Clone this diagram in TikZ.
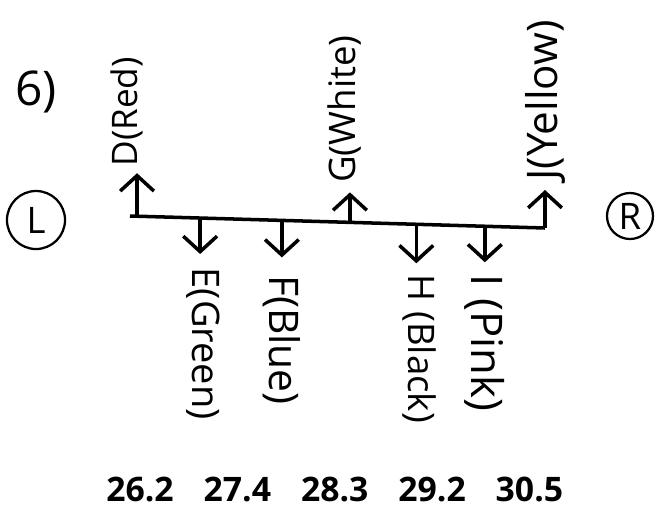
\documentclass[tikz,border=0pt]{standalone}
\usepackage{fontspec}
\setmainfont{Open Sans}
\usepackage{tikz}
\usetikzlibrary{positioning,calc,arrows.meta}
\tikzstyle{arr} = [line width=2.5pt,-{Straight Barb[length=11pt,width=24pt]}]
\tikzstyle{lab} = [font=\fontsize{26}{26}\selectfont, inner sep=1pt]
\tikzstyle{ring} = [circle, draw, line width=1.6pt, minimum size=1.45cm, inner sep=0pt, font=\fontsize{26}{26}\selectfont]
\tikzstyle{num} = [font=\fontsize{24}{24}\selectfont\bfseries]

\begin{document}
\begin{tikzpicture}[x=0.025cm,y=-0.025cm]
        \useasboundingbox (0,0) rectangle (667,516);
        \coordinate (bl) at (130,216);
        \coordinate (br) at (545,228);
        \draw[line width=2.5pt] (bl) -- (br);
        % points on the bar
        \coordinate (bD) at ($(bl)!0.017!(br)$);
        \coordinate (bE) at ($(bl)!0.169!(br)$);
        \coordinate (bF) at ($(bl)!0.366!(br)$);
        \coordinate (bG) at ($(bl)!0.53!(br)$);
        \coordinate (bH) at ($(bl)!0.69!(br)$);
        \coordinate (bI) at ($(bl)!0.855!(br)$);
        \coordinate (bJ) at (br);
        \coordinate (tD) at ($(bD)+(0,-43)$);
        \coordinate (tG) at ($(bG)+(0,-30)$);
        \coordinate (tJ) at ($(bJ)+(0,-38)$);
        \coordinate (tE) at ($(bE)+(0,36)$);
        \coordinate (tF) at ($(bF)+(0,37)$);
        \coordinate (tH) at ($(bH)+(0,39)$);
        \coordinate (tI) at ($(bI)+(0,36)$);
        \draw[arr] (bD) -- (tD);
        \draw[arr] (bG) -- (tG);
        \draw[arr] (bJ) -- (tJ);
        \draw[arr] (bE) -- (tE);
        \draw[arr] (bF) -- (tF);
        \draw[arr] (bH) -- (tH);
        \draw[arr] (bI) -- (tI);
        \node[lab, font=\fontsize{25}{25}\selectfont, rotate=90, anchor=west] (lD) at ($(tD)+(-10,-5)$) {D(Red)};
        \node[lab, rotate=90, anchor=west] (lG) at ($(tG)+(-5,-8)$) {G(White)};
        \node[lab, font=\fontsize{30}{30}\selectfont, rotate=90, anchor=west] (lJ) at ($(tJ)+(0,-8)$) {J(Yellow)};
        \node[lab, font=\fontsize{27}{27}\selectfont, rotate=-90, anchor=west] (lE) at ($(tE)+(3,12)$) {E(Green)};
        \node[lab, font=\fontsize{29}{29}\selectfont, rotate=-90, anchor=west] (lF) at ($(tF)+(0,16)$) {F(Blue)};
        \node[lab, rotate=-90, anchor=west] (lH) at ($(tH)+(3,10)$) {H (Black)};
        \node[lab, font=\fontsize{31}{31}\selectfont, rotate=-90, anchor=west] (lI) at ($(tI)+(0,11)$) {I (Pink)};
        \node[font=\fontsize{34}{34}\selectfont] (six) at (36,92) {6)};
        \node[ring] (L) at (36,220) {L};
        \node[ring, minimum size=1.15cm] (R) at (630,216) {R};
        \node[num] (n1) at (140,489) {26.2};
        \node[num, right=0.5cm of n1] (n2) {27.4};
        \node[num, right=0.5cm of n2] (n3) {28.3};
        \node[num, right=0.5cm of n3] (n4) {29.2};
        \node[num, right=0.5cm of n4] (n5) {30.5};
    \end{tikzpicture}
\end{document}
